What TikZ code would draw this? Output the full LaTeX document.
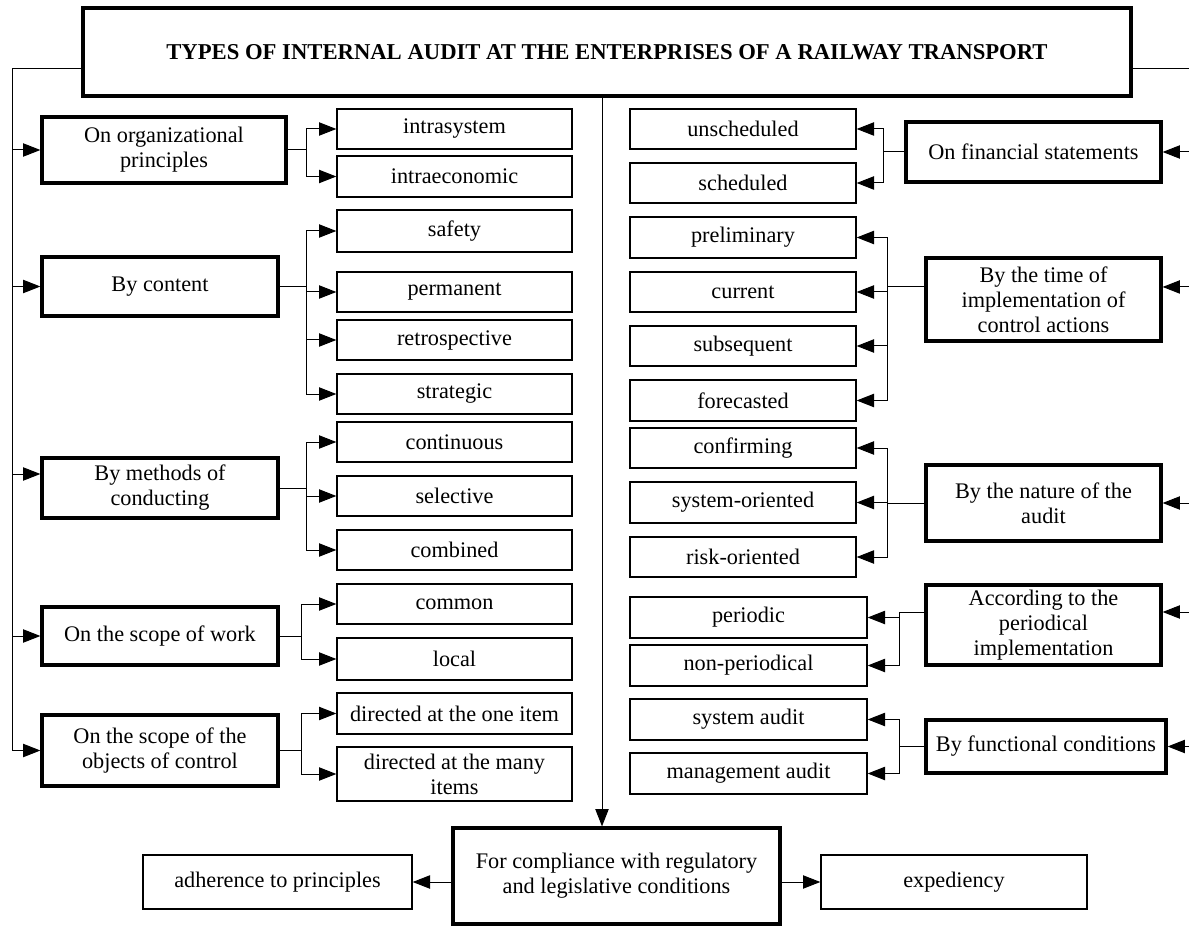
\documentclass[tikz,border=0pt]{standalone}
\usepackage{fontspec}
\setmainfont{Liberation Serif}
\usetikzlibrary{arrows.meta}

\tikzset{every picture/.style={line width=0.75pt}}
\tikzset{
  sz/.style 2 args={minimum width=#1*0.75pt, minimum height=#2*0.75pt},
  head/.style={draw, line width=2.4pt, inner sep=0pt, align=center, font=\fontsize{17pt}{20pt}\selectfont\bfseries},
  kind/.style={draw, line width=2.4pt, inner sep=0pt, align=center, font=\fontsize{16.7pt}{18.75pt}\selectfont},
  item/.style={draw, line width=1pt, inner sep=0pt, align=center, font=\fontsize{16.7pt}{18.75pt}\selectfont},
  arr/.style={-{Triangle[length=13pt,width=10pt]}},
}

\begin{document}
\begin{tikzpicture}[x=0.75pt,y=0.75pt,yscale=-1,xscale=1]
\useasboundingbox (0,0) rectangle (1189,927); %set diagram to 1189 x 927

% Title
\node[head, sz={1048}{88}] (title) at (607,52) {TYPES OF INTERNAL AUDIT AT THE ENTERPRISES OF A RAILWAY TRANSPORT};

% Left kinds
\node[kind, sz={244}{66}] (org) at (164,150) {On organizational\\principles};
\node[kind, sz={236}{59}] (cont) at (160,286.5) {By content};
\node[kind, sz={236}{60}] (meth) at (160,488) {By methods of\\conducting};
\node[kind, sz={236}{58}] (work) at (160,636) {On the scope of work};
\node[kind, sz={236}{71}] (obj) at (160,750.5) {On the scope of the\\objects of control};

% Left items
\node[item, sz={235}{40}] (isys) at (454.5,129) {intrasystem};
\node[item, sz={235}{41}] (iecon) at (454.5,176.5) {intraeconomic};
\node[item, sz={235}{42}] (safe) at (454.5,231) {safety};
\node[item, sz={235}{40}] (perm) at (454.5,292) {permanent};
\node[item, sz={235}{40}] (retro) at (454.5,340) {retrospective};
\node[item, sz={235}{40}] (strat) at (454.5,394) {strategic};
\node[item, sz={235}{40}] (contin) at (454.5,442) {continuous};
\node[item, sz={235}{40}] (sel) at (454.5,496) {selective};
\node[item, sz={235}{40}] (comb) at (454.5,550) {combined};
\node[item, sz={235}{40}] (comm) at (454.5,604) {common};
\node[item, sz={235}{42}] (loc) at (454.5,659) {local};
\node[item, sz={235}{41}] (one) at (454.5,713.5) {directed at the one item};
\node[item, sz={235}{54}] (many) at (454.5,774) {directed at the many\\items};

% Right kinds
\node[kind, sz={255}{60}] (fin) at (1033.5,152) {On financial statements};
\node[kind, sz={235}{83}] (time) at (1043.5,299.5) {By the time of\\implementation of\\control actions};
\node[kind, sz={235}{76}] (nature) at (1043.5,503) {By the nature of the\\audit};
\node[kind, sz={235}{80}] (period) at (1043.5,625) {According to the\\periodical\\implementation};
\node[kind, sz={240}{53}] (func) at (1046,746.5) {By functional conditions};

% Right items
\node[item, sz={226}{40}] (unsch) at (743,129) {unscheduled};
\node[item, sz={226}{40}] (sch) at (743,183) {scheduled};
\node[item, sz={226}{41}] (prel) at (743,237.5) {preliminary};
\node[item, sz={226}{40}] (curr) at (743,292) {current};
\node[item, sz={226}{40}] (subs) at (743,346) {subsequent};
\node[item, sz={226}{41}] (fore) at (743,400.5) {forecasted};
\node[item, sz={226}{40}] (conf) at (743,448) {confirming};
\node[item, sz={226}{41}] (sysor) at (743,502.5) {system-oriented};
\node[item, sz={226}{40}] (risk) at (743,557) {risk-oriented};
\node[item, sz={237}{41}] (peri) at (748.5,617.5) {periodic};
\node[item, sz={237}{41}] (nonp) at (748.5,665.5) {non-periodical};
\node[item, sz={237}{41}] (sysa) at (748.5,719.5) {system audit};
\node[item, sz={237}{41}] (mana) at (748.5,773.5) {management audit};

% Bottom
\node[kind, sz={327}{96}] (comp) at (616.5,876) {For compliance with regulatory\\and legislative conditions};
\node[item, sz={269}{54}] (adh) at (277.5,882) {adherence to principles};
\node[item, sz={266}{54}] (expd) at (954,882) {expediency};

% Points off the box middles
\coordinate (mw) at ([yshift=-10.5pt]meth.west);
\coordinate (tw) at ([yshift=-9.4pt]time.west);
\coordinate (te) at ([yshift=-9.4pt]time.east);
\coordinate (pw) at ([yshift=-9.75pt]period.west);
\coordinate (pe) at ([yshift=-9.75pt]period.east);

% Left bus
\coordinate (lb) at (12,69);
\draw (title.west |- lb) -- (lb) -- (lb |- obj);
\draw[arr] (lb |- org) -- (org.west);
\draw[arr] (lb |- cont) -- (cont.west);
\draw[arr] (lb |- mw) -- (mw);
\draw[arr] (lb |- work) -- (work.west);
\draw[arr] (lb |- obj) -- (obj.west);

% Right bus
\coordinate (rb) at (1190,69);
\draw (title.east |- rb) -- (rb) -- (rb |- func);
\draw[arr] (rb |- fin) -- (fin.east);
\draw[arr] (rb |- te) -- (te);
\draw[arr] (rb |- nature) -- (nature.east);
\draw[arr] (rb |- pe) -- (pe);
\draw[arr] (rb |- func) -- (func.east);

% Left branches
\draw[arr] (org.east) -- ++(19,0) |- (isys.west);
\draw[arr] (org.east) -- ++(19,0) |- (iecon.west);
\draw[arr] (cont.east) -- ++(27,0) |- (safe.west);
\draw[arr] (cont.east) -- ++(27,0) |- (perm.west);
\draw[arr] (cont.east) -- ++(27,0) |- (retro.west);
\draw[arr] (cont.east) -- ++(27,0) |- (strat.west);
\draw[arr] (meth.east) -- ++(27,0) |- (contin.west);
\draw[arr] (meth.east) -- ++(27,0) |- (sel.west);
\draw[arr] (meth.east) -- ++(27,0) |- (comb.west);
\draw[arr] (work.east) -- ++(22,0) |- (comm.west);
\draw[arr] (work.east) -- ++(22,0) |- (loc.west);
\draw[arr] (obj.east) -- ++(22,0) |- (one.west);
\draw[arr] (obj.east) -- ++(22,0) |- (many.west);

% Right branches
\draw[arr] (fin.west) -- ++(-21,0) |- (unsch.east);
\draw[arr] (fin.west) -- ++(-21,0) |- (sch.east);
\draw[arr] (tw) -- ++(-37,0) |- (prel.east);
\draw[arr] (tw) -- ++(-37,0) |- (curr.east);
\draw[arr] (tw) -- ++(-37,0) |- (subs.east);
\draw[arr] (tw) -- ++(-37,0) |- (fore.east);
\draw[arr] (nature.west) -- ++(-37,0) |- (conf.east);
\draw[arr] (nature.west) -- ++(-37,0) |- (sysor.east);
\draw[arr] (nature.west) -- ++(-37,0) |- (risk.east);
\draw[arr] (pw) -- ++(-25,0) |- (peri.east);
\draw[arr] (pw) -- ++(-25,0) |- (nonp.east);
\draw[arr] (func.west) -- ++(-25,0) |- (sysa.east);
\draw[arr] (func.west) -- ++(-25,0) |- (mana.east);

% Middle line and bottom
\coordinate (cv) at (602,0);
\draw[arr] (cv |- title.south) -- (cv |- comp.north);
\draw[arr] (comp.west |- adh) -- (adh.east);
\draw[arr] (comp.east |- expd) -- (expd.west);

\end{tikzpicture}
\end{document}
